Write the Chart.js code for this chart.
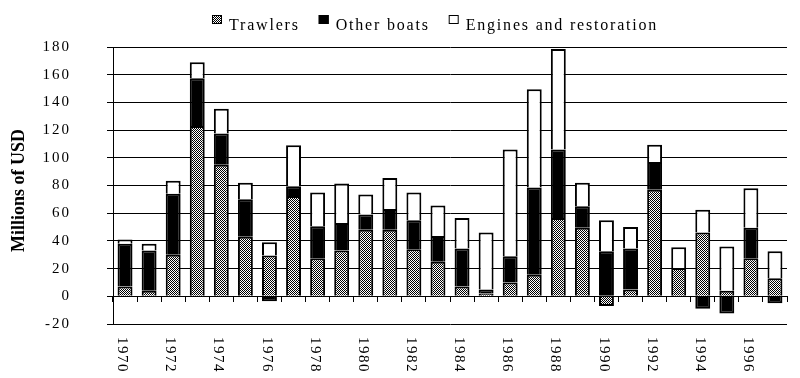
<!DOCTYPE html>
<html>
<head>
<meta charset="utf-8">
<script src="https://cdn.jsdelivr.net/npm/chart.js@4/dist/chart.umd.min.js"></script>
<style>
  html, body { margin: 0; padding: 0; background: #fff; }
</style>
</head>
<body>
<canvas id="fleet-chart" width="800" height="378"></canvas>
<script>
const years = [1970, 1971, 1972, 1973, 1974, 1975, 1976, 1977, 1978, 1979,
               1980, 1981, 1982, 1983, 1984, 1985, 1986, 1987, 1988, 1989,
               1990, 1991, 1992, 1993, 1994, 1995, 1996, 1997];
const trawlers = [7, 4, 30, 123, 95, 43, 29.5, 72.5, 27.5, 33,
                  48, 48, 34, 25, 7, 2, 10, 15.5, 56.5, 49.5,
                  -7, 5, 77, 20.5, 46, 4, 27.5, 13];
const otherBoats = [31, 29, 44, 34.5, 22.5, 27, -3.5, 7, 23, 20,
                    11, 15, 21, 18.5, 27.5, 3, 19, 63, 49.5, 15.5,
                    32.5, 29.5, 20, 0, -9, -12.5, 22, -5];
const engines = [3, 5, 9.5, 11.5, 18, 12, 9.5, 29.5, 24.5, 28.5,
                 14.5, 22.5, 20, 22, 22, 41, 77, 71, 72.5, 17,
                 22.5, 15.5, 12.5, 15, 16.5, 32, 28.5, 19.5];
const seriesNames = ['Trawlers', 'Other boats', 'Engines and restoration'];
const yTitle = 'Millions of USD';

const serif = "'Liberation Serif', 'Times New Roman', serif";
Chart.defaults.font.family = serif;
Chart.defaults.color = '#000';

const canvas = document.getElementById('fleet-chart');
const ctx = canvas.getContext('2d');

// grey dither like the old spreadsheet fill
function checker() {
    const c = document.createElement('canvas');
    c.width = 2; c.height = 2;
    const g = c.getContext('2d');
    g.fillStyle = '#fff';
    g.fillRect(0, 0, 2, 2);
    g.fillStyle = '#000';
    g.fillRect(0, 0, 1, 1);
    g.fillRect(1, 1, 1, 1);
    return ctx.createPattern(c, 'repeat');
}

const textPlugin = {
    id: 'textPlugin',
    beforeUpdate(chart) { chart.ctx.letterSpacing = '2px'; },
    beforeDraw(chart) { chart.ctx.letterSpacing = '2px'; },
    afterDraw(chart) {
        const c = chart.ctx;
        const area = chart.chartArea;
        c.save();

        // legend
        c.font = '16px ' + serif;
        c.letterSpacing = '1.8px';
        c.textAlign = 'left';
        c.textBaseline = 'alphabetic';
        let x = 212;
        chart.data.datasets.forEach(ds => {
            c.fillStyle = ds.backgroundColor;
            c.fillRect(x, 15, 10, 9);
            c.strokeStyle = '#000';
            c.lineWidth = 1;
            c.strokeRect(x + 0.5, 15.5, 9, 8);
            c.fillStyle = '#000';
            c.fillText(ds.label, x + 17, 30);
            x += 17 + c.measureText(ds.label).width + 19;
        });

        // y title
        c.save();
        c.font = 'bold 18px ' + serif;
        c.letterSpacing = '0px';
        c.translate(19, (area.top + area.bottom) / 2 + 5);
        c.rotate(-Math.PI / 2);
        c.textAlign = 'center';
        c.textBaseline = 'middle';
        c.fillText(yTitle, 0, 0);
        c.restore();

        // x labels, every other year, read top to bottom
        const xs = chart.scales.x;
        c.font = '15px ' + serif;
        c.letterSpacing = '1.5px';
        years.forEach((yr, i) => {
            if (yr % 2) return;
            c.save();
            c.translate(xs.getPixelForValue(i) - 3, area.bottom + 13);
            c.rotate(Math.PI / 2);
            c.textAlign = 'left';
            c.textBaseline = 'middle';
            c.fillText(String(yr), 0, 0);
            c.restore();
        });
        c.restore();
    }
};

const pattern = checker();

new Chart(ctx, {
    type: 'bar',
    data: {
        labels: years.map(String),
        datasets: [
            { label: seriesNames[0], data: trawlers, backgroundColor: pattern },
            { label: seriesNames[1], data: otherBoats, backgroundColor: '#000' },
            { label: seriesNames[2], data: engines, backgroundColor: '#fff' }
        ]
    },
    options: {
        responsive: false,
        animation: false,
        layout: { padding: { top: 47, right: 13, bottom: 54, left: 0 } },
        datasets: {
            bar: {
                barPercentage: 0.62,
                categoryPercentage: 1,
                borderColor: '#000',
                borderWidth: 2
            }
        },
        plugins: {
            legend: { display: false },
            tooltip: { enabled: false }
        },
        scales: {
            x: {
                stacked: true,
                position: { y: 0 },
                offset: true,
                grid: {
                    offset: true,
                    drawOnChartArea: false,
                    drawTicks: true,
                    tickLength: 5,
                    color: '#000'
                },
                border: { display: true, color: '#000', width: 1 },
                ticks: { display: false }
            },
            y: {
                stacked: true,
                min: -20,
                max: 180,
                ticks: {
                    stepSize: 20,
                    padding: 36,
                    color: '#000',
                    font: { family: serif, size: 15 }
                },
                grid: { color: '#000', lineWidth: 1, tickLength: 6 },
                border: { color: '#000', width: 1 },
                afterFit(scale) { scale.width = 113; }
            }
        }
    },
    plugins: [textPlugin]
});
</script>
</body>
</html>
